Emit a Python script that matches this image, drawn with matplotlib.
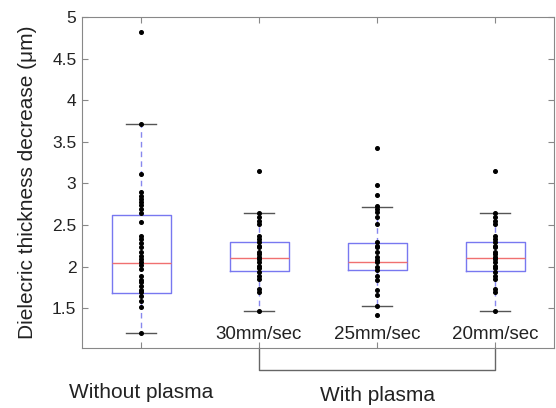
import numpy as np
import matplotlib
matplotlib.use("Agg")
import matplotlib.pyplot as plt

plt.rcParams['font.family'] = ['Liberation Sans', 'DejaVu Sans']

# data
positions = [1, 2, 3, 4]
inner_labels = ["", "30mm/sec", "25mm/sec", "20mm/sec"]

without_plasma = [4.82, 3.71, 3.11, 2.89, 2.85, 2.81, 2.78, 2.74, 2.69, 2.64, 2.53,
                  2.37, 2.33, 2.28, 2.23, 2.18, 2.13, 2.09, 2.05, 2.02, 1.97, 1.88,
                  1.84, 1.81, 1.77, 1.72, 1.69, 1.64, 1.58, 1.51, 1.20]
speed_30 = [3.15, 2.64, 2.60, 2.55, 2.51, 2.37, 2.33, 2.29, 2.25, 2.23, 2.18, 2.15,
            2.12, 2.09, 2.06, 2.01, 1.98, 1.94, 1.89, 1.85, 1.73, 1.69, 1.47]
speed_25 = [3.43, 2.98, 2.86, 2.73, 2.69, 2.65, 2.60, 2.51, 2.29, 2.25, 2.23, 2.18,
            2.12, 2.08, 2.05, 2.00, 1.96, 1.88, 1.84, 1.72, 1.66, 1.53, 1.42]
speed_20 = [3.15, 2.64, 2.60, 2.55, 2.51, 2.37, 2.33, 2.29, 2.25, 2.23, 2.18, 2.15,
            2.12, 2.09, 2.06, 2.01, 1.98, 1.94, 1.89, 1.85, 1.73, 1.69, 1.47]
groups = [without_plasma, speed_30, speed_25, speed_20]

q1 = [1.684, 1.948, 1.964, 1.948]
med = [2.045, 2.105, 2.057, 2.105]
q3 = [2.617, 2.297, 2.285, 2.297]
whislo = [1.20, 1.47, 1.53, 1.47]
whishi = [3.71, 2.64, 2.72, 2.64]

stats = []
for i in range(4):
    stats.append(dict(q1=q1[i], med=med[i], q3=q3[i], whislo=whislo[i],
                      whishi=whishi[i], fliers=[]))

fig = plt.figure(figsize=(5.56, 4.08), dpi=100)
ax = fig.add_axes([0.1475, 0.147, 0.849, 0.8113])

ax.bxp(stats, positions=positions, widths=0.5, capwidths=0.25, showfliers=False,
       boxprops=dict(color="#7878f0", lw=1.0),
       medianprops=dict(color="#f07070", lw=1.0),
       whiskerprops=dict(color="#8888ee", lw=1.0, ls=(0, (4, 3))),
       capprops=dict(color="#555555", lw=1.0))

for p, g in zip(positions, groups):
    ax.plot([p] * len(g), g, 'o', color="black", ms=2.6, zorder=5)

ax.set_xlim(0.5, 4.5)
ax.set_ylim(1.02, 5)
ax.set_yticks([1.5, 2, 2.5, 3, 3.5, 4, 4.5, 5])
ax.set_yticklabels(["1.5", "2", "2.5", "3", "3.5", "4", "4.5", "5"])
ax.set_xticks(positions)
ax.set_xticklabels([])
ax.tick_params(direction="in", length=4, color="#888888", top=True, right=True,
               labelsize=12.5, labelcolor="#222222", pad=4)
for s in ax.spines.values():
    s.set_color("#888888")

ax.set_ylabel("Dielecric thickness decrease (\u03bcm)", fontsize=15, color="#222222",
              labelpad=11)

tr = ax.get_xaxis_transform()
for p, lab in zip(positions, inner_labels):
    if lab:
        ax.text(p, 0.042, lab, transform=tr, ha="center", va="center",
                fontsize=13.5, color="#222222")

# group labels and bracket below the axes
ax.text(1, -0.135, "Without plasma", transform=tr, ha="center", va="center",
        fontsize=15, color="#222222", clip_on=False)
ax.plot([2, 2, 4, 4], [0, -0.066, -0.066, 0], transform=tr, color="#666666",
        lw=1.0, clip_on=False)
ax.text(3, -0.142, "With plasma", transform=tr, ha="center", va="center",
        fontsize=15, color="#222222", clip_on=False)

fig.savefig("out.png", dpi=100)
